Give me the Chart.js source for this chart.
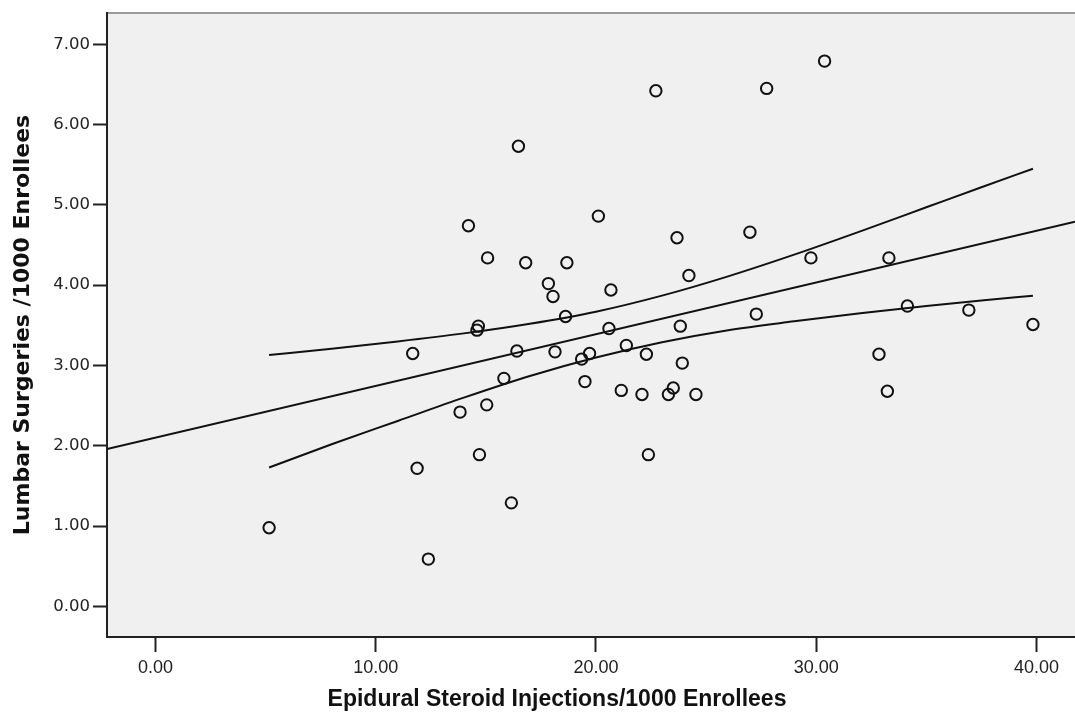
<!DOCTYPE html>
<html>
<head>
<meta charset="utf-8">
<script src="https://cdn.jsdelivr.net/npm/chart.js@4.4.1/dist/chart.umd.min.js"></script>
<style>
  html, body { margin: 0; padding: 0; background: #fff; }
  #wrap { position: relative; width: 1075px; height: 720px; }
</style>
</head>
<body>
<div id="wrap"><canvas id="scatterChart"></canvas></div>
<script>
// Points : injections (x) / chirurgies (y) par état
const injections = [5.16, 11.68, 11.88, 12.39, 13.83, 14.21, 14.60, 14.66, 14.71, 15.04, 15.08, 15.82, 16.16,
    16.41, 16.48, 16.81, 17.84, 18.05, 18.14, 18.62, 18.68, 19.35, 19.50, 19.71, 20.11, 20.59, 20.68, 21.15,
    21.38, 22.09, 22.29, 22.38, 22.72, 23.29, 23.51, 23.68, 23.83, 23.92, 24.22, 24.54, 26.99, 27.28, 27.75,
    29.76, 30.38, 32.85, 33.23, 33.30, 34.14, 36.93, 39.84];
const surgeries = [0.98, 3.15, 1.72, 0.59, 2.42, 4.74, 3.44, 3.49, 1.89, 2.51, 4.34, 2.84, 1.29,
    3.18, 5.73, 4.28, 4.02, 3.86, 3.17, 3.61, 4.28, 3.08, 2.80, 3.15, 4.86, 3.46, 3.94, 2.69,
    3.25, 2.64, 3.14, 1.89, 6.42, 2.64, 2.72, 4.59, 3.49, 3.03, 4.12, 2.64, 4.66, 3.64, 6.45,
    4.34, 6.79, 3.14, 2.68, 4.34, 3.74, 3.69, 3.51];

// Droite de régression (lue aux bords du graphique)
const fitX = [-2.2, 41.75];
const fitY = [1.96, 4.79];

// Intervalle de confiance (courbes)
const bandX = [5.16, 8, 11, 14, 17, 20, 23, 26, 29, 32, 35, 37.5, 39.84];
const bandUpper = [3.13, 3.21, 3.30, 3.40, 3.52, 3.67, 3.87, 4.11, 4.38, 4.67, 4.97, 5.22, 5.45];
const bandLower = [1.73, 2.02, 2.31, 2.60, 2.87, 3.10, 3.29, 3.44, 3.55, 3.65, 3.74, 3.81, 3.87];

// Axes
const xTicks = [0, 10, 20, 30, 40];
const yTicks = [0, 1, 2, 3, 4, 5, 6, 7];
const xTitle = 'Epidural Steroid Injections/1000 Enrollees';
const yTitle = 'Lumbar Surgeries /1000 Enrollees';

const toPoints = (xs, ys) => xs.map((x, i) => ({ x: x, y: ys[i] }));

// Fond gris + bord supérieur
const plotBackground = {
    id: 'plotBackground',
    beforeDraw(chart) {
        const { ctx, chartArea: a } = chart;
        ctx.save();
        ctx.fillStyle = '#f0f0f0';
        ctx.fillRect(a.left, a.top, a.right - a.left, a.bottom - a.top);
        ctx.strokeStyle = '#9a9a9a';
        ctx.lineWidth = 2;
        ctx.beginPath();
        ctx.moveTo(a.left, a.top);
        ctx.lineTo(a.right, a.top);
        ctx.stroke();
        ctx.restore();
    }
};

// Titres des axes (le titre X est décalé comme sur l'original)
const axisTitles = {
    id: 'axisTitles',
    afterDraw(chart) {
        const ctx = chart.ctx;
        ctx.save();
        ctx.fillStyle = '#111';
        ctx.textAlign = 'center';
        ctx.textBaseline = 'alphabetic';
        ctx.font = 'bold 23px "Liberation Sans", Arial, sans-serif';
        ctx.fillText(xTitle, 557, 706);
        ctx.translate(29, 325);
        ctx.rotate(-Math.PI / 2);
        ctx.font = 'bold 22px "DejaVu Sans", sans-serif';
        ctx.fillText(yTitle, 0, 0);
        ctx.restore();
    }
};

function initChart() {
    const ctx = document.getElementById('scatterChart').getContext('2d');

    new Chart(ctx, {
        type: 'scatter',
        data: {
            datasets: [
                {
                    data: toPoints(injections, surgeries),
                    pointStyle: 'circle',
                    pointRadius: 5.7,
                    pointBorderWidth: 2,
                    borderColor: '#111',
                    backgroundColor: 'rgba(0,0,0,0)'
                },
                {
                    data: toPoints(fitX, fitY),
                    showLine: true,
                    pointRadius: 0,
                    borderColor: '#111',
                    borderWidth: 2
                },
                {
                    data: toPoints(bandX, bandUpper),
                    showLine: true,
                    pointRadius: 0,
                    borderColor: '#111',
                    borderWidth: 2,
                    cubicInterpolationMode: 'monotone'
                },
                {
                    data: toPoints(bandX, bandLower),
                    showLine: true,
                    pointRadius: 0,
                    borderColor: '#111',
                    borderWidth: 2,
                    cubicInterpolationMode: 'monotone'
                }
            ]
        },
        options: {
            responsive: true,
            maintainAspectRatio: false,
            animation: false,
            layout: {
                autoPadding: false,
                padding: { top: 12, right: 0, left: 0, bottom: 0 }
            },
            plugins: {
                legend: { display: false },
                tooltip: { enabled: false }
            },
            scales: {
                x: {
                    type: 'linear',
                    min: -2.2,
                    max: 41.75,
                    afterFit: scale => { scale.height = 83; },
                    afterBuildTicks: scale => { scale.ticks = xTicks.map(v => ({ value: v })); },
                    border: { display: true, color: '#222', width: 2 },
                    grid: { drawOnChartArea: false, drawTicks: true, tickLength: 15, tickWidth: 2, tickColor: '#222' },
                    ticks: {
                        includeBounds: false,
                        padding: 5,
                        color: '#222',
                        font: { family: '"Liberation Sans", Arial, sans-serif', size: 18 },
                        callback: v => v.toFixed(2)
                    }
                },
                y: {
                    type: 'linear',
                    min: -0.38,
                    max: 7.39,
                    afterFit: scale => { scale.width = 107; },
                    afterBuildTicks: scale => { scale.ticks = yTicks.map(v => ({ value: v })); },
                    border: { display: true, color: '#222', width: 2 },
                    grid: { drawOnChartArea: false, drawTicks: true, tickLength: 14, tickWidth: 2, tickColor: '#222' },
                    ticks: {
                        includeBounds: false,
                        padding: 3,
                        color: '#222',
                        font: { family: '"DejaVu Sans", sans-serif', size: 16.5 },
                        callback: v => v.toFixed(2)
                    }
                }
            }
        },
        plugins: [plotBackground, axisTitles]
    });
}

document.addEventListener('DOMContentLoaded', initChart);
</script>
</body>
</html>
